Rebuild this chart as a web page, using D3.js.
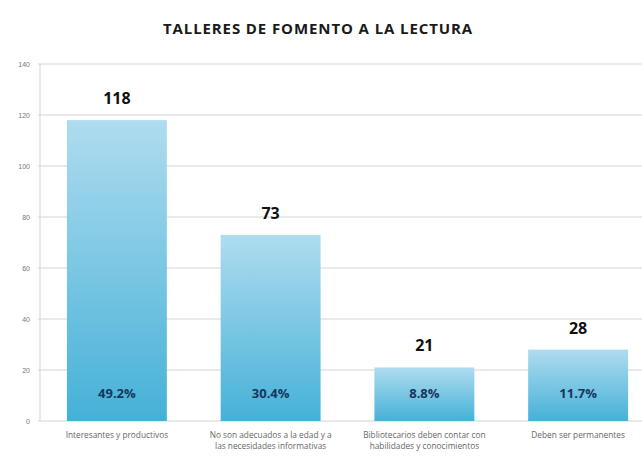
<!DOCTYPE html>
<html>
<head>
<meta charset="utf-8">
<script src="https://cdn.jsdelivr.net/npm/d3@7"></script>
<style>
body { margin: 0; background: #fff; }
svg { font-family: "Open Sans", "Liberation Sans", sans-serif; }
</style>
</head>
<body>
<script>
var categories = [
  ["Interesantes y productivos"],
  ["No son adecuados a la edad y a", "las necesidades informativas"],
  ["Bibliotecarios deben contar con", "habilidades y conocimientos"],
  ["Deben ser permanentes"]
];
var values = [118, 73, 21, 28];
var percents = ["49.2%", "30.4%", "8.8%", "11.7%"];
var yTicks = [0, 20, 40, 60, 80, 100, 120, 140];

var W = 642, H = 456;
var margin = {top: 64, left: 40, right: -13, bottom: 35};
var width = W - margin.left - margin.right,
    height = H - margin.top - margin.bottom;

var svg = d3.select("body").append("svg")
    .attr("width", W).attr("height", H);

var defs = svg.append("defs");
var grad = defs.append("linearGradient")
    .attr("id", "barGrad").attr("x1", 0).attr("y1", 0).attr("x2", 0).attr("y2", 1);
grad.append("stop").attr("offset", "0%").attr("stop-color", "#afdcef");
grad.append("stop").attr("offset", "100%").attr("stop-color", "#45b1d7");

svg.append("text")
    .attr("x", 318).attr("y", 34)
    .attr("text-anchor", "middle")
    .attr("font-size", 15)
    .attr("letter-spacing", 0.9)
    .attr("font-weight", "bold")
    .attr("fill", "#1a1a1a")
    .text("TALLERES DE FOMENTO A LA LECTURA");

var g = svg.append("g")
    .attr("transform", "translate(" + margin.left + "," + margin.top + ")");

var x = d3.scaleBand().domain(d3.range(values.length)).range([0, width]).paddingInner(0.35).paddingOuter(0.175);
var y = d3.scaleLinear().domain([0, 140]).range([height, 0]);

// grid
g.selectAll(".grid").data(yTicks).enter().append("line")
    .attr("x1", -2).attr("x2", width)
    .attr("y1", function(d) { return y(d); })
    .attr("y2", function(d) { return y(d); })
    .attr("stroke", "#d4d4d4").attr("stroke-width", 1);
g.append("line").attr("x1", 0).attr("x2", 0).attr("y1", 0).attr("y2", height)
    .attr("stroke", "#d4d4d4");

var yAxis = g.append("g")
    .call(d3.axisLeft(y).tickValues(yTicks).tickSize(0).tickPadding(10));
yAxis.select(".domain").remove();
yAxis.selectAll("text").attr("font-size", 7).attr("fill", "#777");

// bars
g.selectAll(".bar").data(values).enter().append("rect")
    .attr("x", function(d, i) { return x(i); })
    .attr("width", x.bandwidth())
    .attr("y", function(d) { return y(d); })
    .attr("height", function(d) { return height - y(d); })
    .attr("fill", "url(#barGrad)");

g.selectAll(".val").data(values).enter().append("text")
    .attr("x", function(d, i) { return x(i) + x.bandwidth() / 2; })
    .attr("y", function(d) { return y(d) - 16; })
    .attr("text-anchor", "middle")
    .attr("font-size", 16).attr("font-weight", "bold").attr("fill", "#111")
    .text(function(d) { return d; });

g.selectAll(".pct").data(percents).enter().append("text")
    .attr("x", function(d, i) { return x(i) + x.bandwidth() / 2; })
    .attr("y", y(0) - 23)
    .attr("text-anchor", "middle")
    .attr("font-size", 13).attr("font-weight", "bold").attr("fill", "#17365d")
    .text(function(d) { return d; });

// category labels
var cat = g.selectAll(".cat").data(categories).enter().append("text")
    .attr("x", function(d, i) { return x(i) + x.bandwidth() / 2; })
    .attr("y", height + 17)
    .attr("text-anchor", "middle")
    .attr("font-size", 8.3).attr("fill", "#666");
cat.selectAll("tspan").data(function(d) { return d; }).enter().append("tspan")
    .attr("x", function() { return d3.select(this.parentNode).attr("x"); })
    .attr("dy", function(d, i) { return i ? 11 : 0; })
    .text(function(d) { return d; });
</script>
</body>
</html>
